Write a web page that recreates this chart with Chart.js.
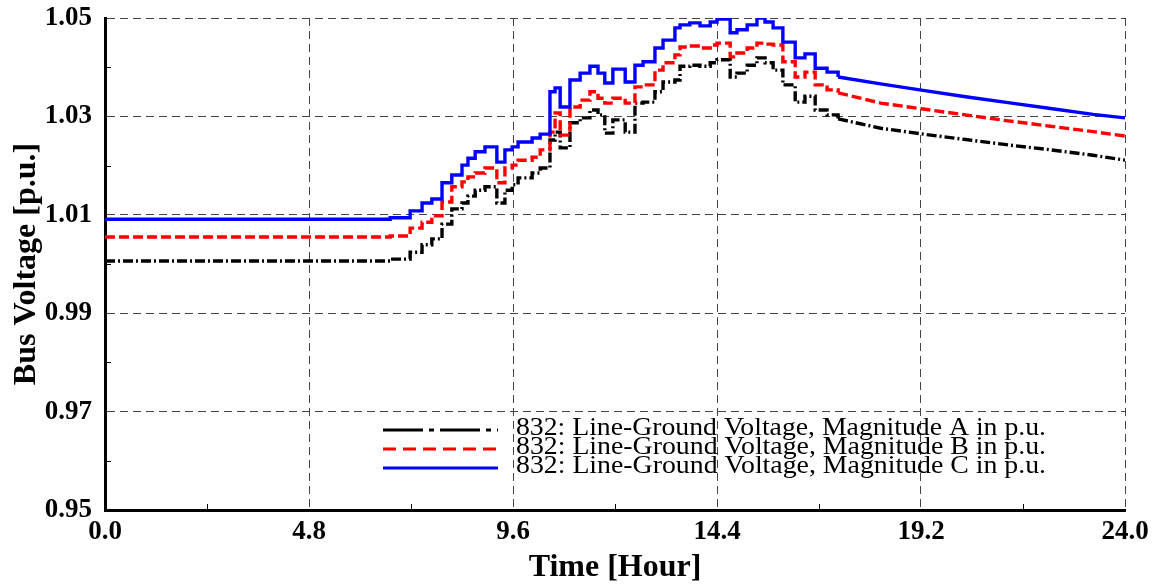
<!DOCTYPE html>
<html><head><meta charset="utf-8">
<script src="https://cdn.jsdelivr.net/npm/chart.js@4.4.1/dist/chart.umd.min.js"></script>
<style>html,body{margin:0;padding:0;background:#fff;overflow:hidden}#wrap{width:1163px;height:588px;position:relative}</style>
</head><body><div id="wrap"><canvas id="c"></canvas></div>
<script>
// ---- data (hours, p.u.) ----
const stepHours = [0,6.71,7.18,7.46,7.69,7.93,8.16,8.40,8.54,8.71,
  8.94,9.22,9.41,9.58,9.72,10.05,10.24,10.47,10.59,10.71,
  10.94,11.18,11.41,11.60,11.76,11.95,12.24,12.47,12.66,12.94,
  13.13,13.41,13.53,13.76,14.00,14.24,14.40,14.71,14.87,15.11,
  15.34,15.53,15.72,15.95,16.24,16.47,16.71,16.99,17.25];
const phaseA = [1.0006,1.0010,1.0024,1.0039,1.0051,1.0081,1.0112,1.0124,1.0138,1.0150,
  1.0157,1.0124,1.0150,1.0161,1.0175,1.0185,1.0195,1.0252,1.0268,1.0236,
  1.0287,1.0297,1.0313,1.0303,1.0266,1.0293,1.0268,1.0327,1.0329,1.0350,
  1.0370,1.0374,1.0402,1.0404,1.0402,1.0409,1.0415,1.0380,1.0388,1.0404,
  1.0419,1.0409,1.0394,1.0364,1.0329,1.0341,1.0313,1.0303,1.0295];
const phaseB = [1.0055,1.0057,1.0073,1.0085,1.0098,1.0126,1.0157,1.0167,1.0177,1.0185,
  1.0195,1.0165,1.0195,1.0201,1.0211,1.0217,1.0232,1.0268,1.0307,1.0262,
  1.0319,1.0333,1.0350,1.0337,1.0327,1.0337,1.0327,1.0360,1.0364,1.0394,
  1.0409,1.0425,1.0441,1.0443,1.0439,1.0445,1.0449,1.0421,1.0429,1.0439,
  1.0449,1.0447,1.0445,1.0411,1.0380,1.0390,1.0364,1.0354,1.0348];
const phaseC = [1.0091,1.0094,1.0108,1.0124,1.0132,1.0165,1.0181,1.0201,1.0215,1.0228,
  1.0238,1.0207,1.0232,1.0238,1.0248,1.0256,1.0264,1.0350,1.0358,1.0319,
  1.0374,1.0388,1.0402,1.0388,1.0368,1.0396,1.0370,1.0404,1.0411,1.0439,
  1.0455,1.0480,1.0486,1.0490,1.0484,1.0492,1.0498,1.0470,1.0476,1.0486,
  1.0500,1.0492,1.0480,1.0451,1.0419,1.0427,1.0398,1.0390,1.0380];
const tailHours = [17.25,18.25,19.25,20.25,21.25,22.25,23.25,24.0];
const tailA = [1.0295,1.0276,1.0264,1.0253,1.0242,1.0232,1.0221,1.0211];
const tailB = [1.0348,1.0327,1.0315,1.0303,1.0291,1.0280,1.0269,1.0260];
const tailC = [1.0380,1.0366,1.0353,1.0340,1.0328,1.0316,1.0304,1.0297];
const xTicks = [0, 4.8, 9.6, 14.4, 19.2, 24.0];
const yTicks = [0.95, 0.97, 0.99, 1.01, 1.03, 1.05];
const xMinor = [2.4, 7.2, 12.0, 16.8, 21.6];
const yMinor = [0.96, 0.98, 1.00, 1.02, 1.04];
const seriesLabels = ['832: Line-Ground Voltage, Magnitude A in p.u.',
  '832: Line-Ground Voltage, Magnitude B in p.u.',
  '832: Line-Ground Voltage, Magnitude C in p.u.'];
const xTitle = 'Time [Hour]';
const yTitle = 'Bus Voltage [p.u.]';

// ---- styles ----
const colors = ['#000000', '#ff0000', '#0000ff'];
const dashes = [[10,3,2,3], [10,4], []];
const legendDashes = [[40,6,5,6], [13,7], []];
const pts = (xs, ys) => xs.map((x, i) => ({x, y: ys[i]}));
const stepSets = [phaseA, phaseB, phaseC];
const tailSets = [tailA, tailB, tailC];
const datasets = [];
[2,1,0].forEach(i => {
  datasets.push({label: seriesLabels[i], data: pts(stepHours, stepSets[i]), stepped: true,
    borderColor: colors[i], borderDash: dashes[i], borderWidth: 3.4, pointRadius: 0, fill: false});
  datasets.push({label: '_' + i, data: pts(tailHours, tailSets[i]), stepped: false,
    borderColor: colors[i], borderDash: dashes[i], borderWidth: 3.4, pointRadius: 0, fill: false, tension: 0});
});

const serif = '"Liberation Serif", "Times New Roman", serif';

const extras = {
  id: 'extras',
  afterDraw(chart) {
    const {ctx, scales: {x, y}} = chart;
    ctx.save();
    ctx.strokeStyle = '#000'; ctx.lineWidth = 1; ctx.setLineDash([]);
    const b = y.getPixelForValue(0.95), l = x.getPixelForValue(0);
    xMinor.forEach(v => { const px = Math.round(x.getPixelForValue(v)) + 0.5;
      ctx.beginPath(); ctx.moveTo(px, b); ctx.lineTo(px, b - 6); ctx.stroke(); });
    yMinor.forEach(v => { const py = Math.round(y.getPixelForValue(v)) + 0.5;
      ctx.beginPath(); ctx.moveTo(l, py); ctx.lineTo(l + 6, py); ctx.stroke(); });
    // legend
    const lx0 = 383, lx1 = 498, tx = 516, rows = [427, 446, 465], targetW = 530;
    ctx.font = '25px ' + serif;
    ctx.textBaseline = 'middle';
    ctx.fillStyle = '#000';
    [0,1,2].forEach(i => {
      ctx.strokeStyle = colors[i]; ctx.lineWidth = 3; ctx.setLineDash(legendDashes[i]);
      ctx.beginPath(); ctx.moveTo(lx0, rows[i] + 3); ctx.lineTo(lx1, rows[i] + 3); ctx.stroke();
      const w = ctx.measureText(seriesLabels[i]).width;
      const sx = targetW / w;
      ctx.save(); ctx.translate(tx, rows[i] + 1); ctx.scale(sx, 1);
      ctx.fillText(seriesLabels[i], 0, 0); ctx.restore();
    });
    ctx.restore();
  }
};

new Chart(document.getElementById('c'), {
  type: 'line',
  data: {datasets},
  plugins: [extras],
  options: {
    responsive: true, maintainAspectRatio: false, animation: false,
    layout: {padding: {left: 0, top: 18, right: 38, bottom: 0}},
    plugins: {legend: {display: false}, tooltip: {enabled: false}},
    scales: {
      x: {type: 'linear', min: 0, max: 24,
        afterBuildTicks: s => { s.ticks = xTicks.map(v => ({value: v})); },
        afterFit: s => { s.height = 78; s.paddingLeft = 0; s.paddingRight = 0; },
        ticks: {callback: v => Number(v).toFixed(1), color: '#000', padding: 6, maxRotation: 0,
          font: {family: serif, size: 27, weight: 'bold'}},
        grid: {color: '#444', lineWidth: 1, drawTicks: false},
        border: {display: true, color: '#000', width: 3, dash: [8, 5]},
        title: {display: true, text: xTitle, color: '#000', padding: {top: 0, bottom: 1},
          font: {family: serif, size: 32, weight: 'bold', lineHeight: 1.2}}
      },
      y: {type: 'linear', min: 0.95, max: 1.05,
        afterBuildTicks: s => { s.ticks = yTicks.map(v => ({value: v})); },
        afterFit: s => { s.width = 105; s.paddingTop = 0; s.paddingBottom = 0; },
        ticks: {callback: v => Number(v).toFixed(2), color: '#000', padding: 13,
          font: {family: serif, size: 27, weight: 'bold'}},
        grid: {color: '#444', lineWidth: 1, drawTicks: false},
        border: {display: true, color: '#000', width: 3, dash: [8, 5]},
        title: {display: true, text: yTitle, color: '#000', padding: {top: 8, bottom: 0},
          font: {family: serif, size: 32, weight: 'bold', lineHeight: 1.2}}
      }
    }
  }
});
</script></body></html>
